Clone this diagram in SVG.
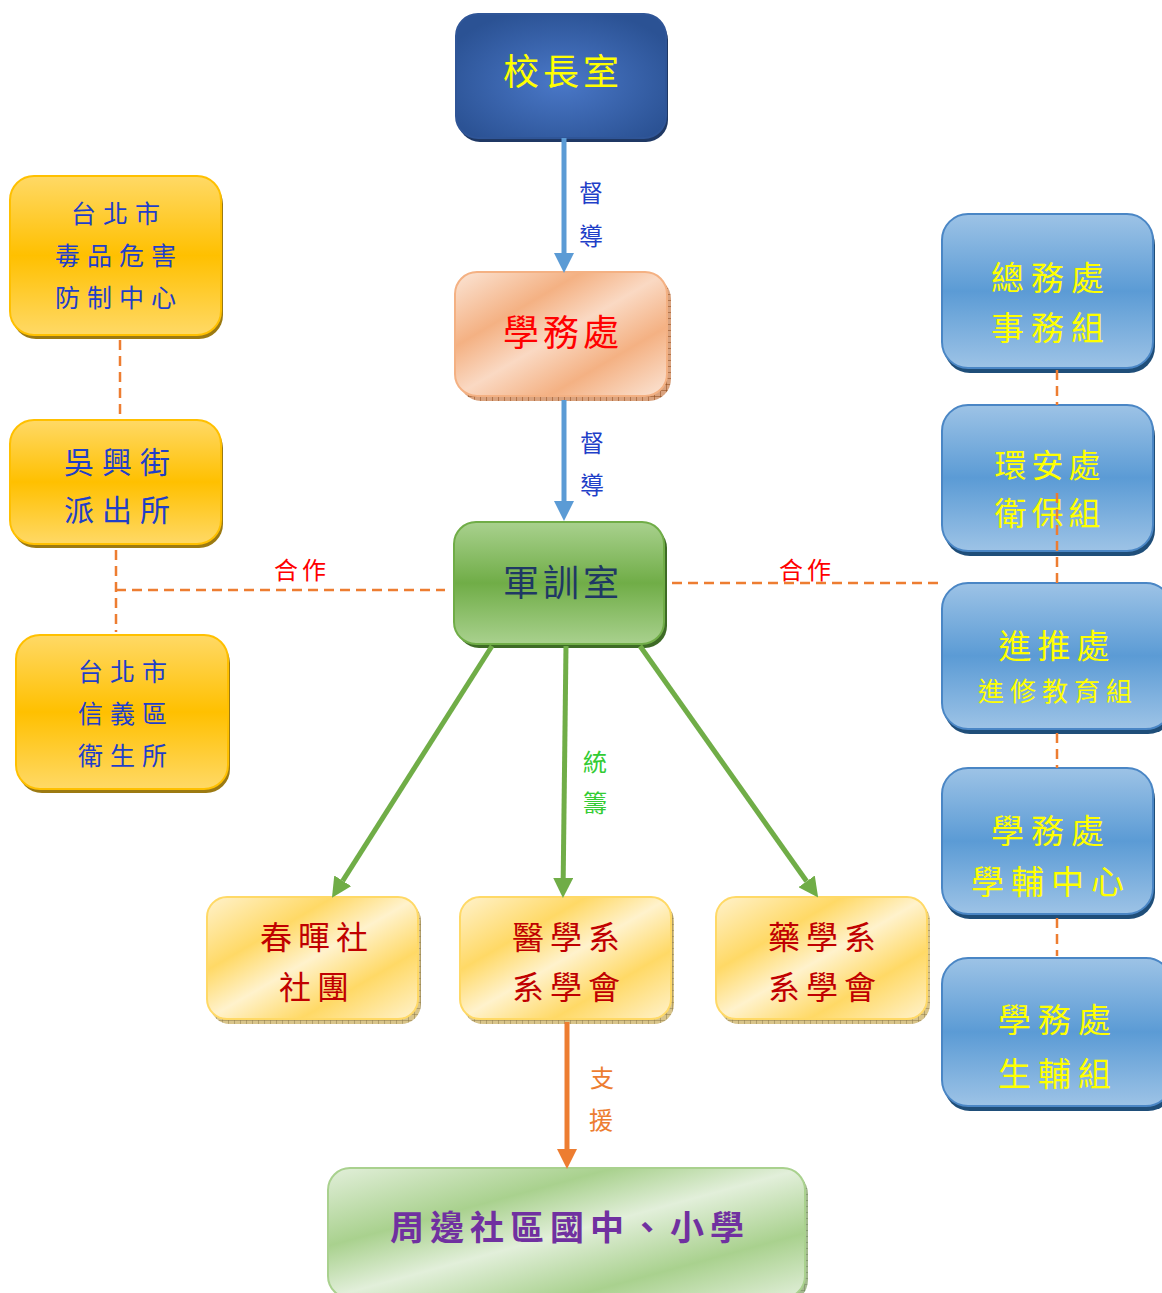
<svg xmlns="http://www.w3.org/2000/svg" width="1162" height="1293" viewBox="0 0 1162 1293">
<style>
text{font-family:"Noto Sans CJK TC","Noto Sans CJK SC",sans-serif;text-anchor:middle}
.t36{font-size:36px;letter-spacing:4px}
.lab{font-size:24px;letter-spacing:0}
.yel{fill:#FFFF00}
.blueT{fill:#1F3FC8}
.redT{fill:#C00000}
.dash{fill:none;stroke:#ED7D31;stroke-width:2.5;stroke-dasharray:10 6}
</style>
<defs>
<radialGradient id="gNavy" cx="0.5" cy="0.55" r="0.6">
<stop offset="0" stop-color="#4A78C8"/><stop offset="1" stop-color="#2B5294"/>
</radialGradient>
<linearGradient id="gPeach" x1="0" y1="0" x2="1" y2="1">
<stop offset="0" stop-color="#FBE5D6"/><stop offset="0.3" stop-color="#F4B183"/><stop offset="0.5" stop-color="#FAD9C3"/><stop offset="0.72" stop-color="#F4B183"/><stop offset="1" stop-color="#FBE5D6"/>
</linearGradient>
<linearGradient id="gGreen" x1="0" y1="0" x2="0" y2="1">
<stop offset="0" stop-color="#A9D18E"/><stop offset="0.5" stop-color="#70AD47"/><stop offset="1" stop-color="#A9D18E"/>
</linearGradient>
<linearGradient id="gGold" x1="0" y1="0" x2="0" y2="1">
<stop offset="0" stop-color="#FFD966"/><stop offset="0.5" stop-color="#FFC000"/><stop offset="1" stop-color="#FFD966"/>
</linearGradient>
<linearGradient id="gBlue" x1="0" y1="0" x2="0" y2="1">
<stop offset="0" stop-color="#9DC3E6"/><stop offset="0.5" stop-color="#5B9BD5"/><stop offset="1" stop-color="#9DC3E6"/>
</linearGradient>
<linearGradient id="gCream" x1="0" y1="0" x2="1" y2="1">
<stop offset="0" stop-color="#FFF2CC"/><stop offset="0.3" stop-color="#FFD966"/><stop offset="0.5" stop-color="#FFF2CC"/><stop offset="0.72" stop-color="#FFD966"/><stop offset="1" stop-color="#FFF2CC"/>
</linearGradient>
<linearGradient id="gLeaf" x1="0" y1="0" x2="1" y2="1">
<stop offset="0" stop-color="#E2EFDA"/><stop offset="0.3" stop-color="#A9D18E"/><stop offset="0.5" stop-color="#E2EFDA"/><stop offset="0.75" stop-color="#A9D18E"/><stop offset="1" stop-color="#E2EFDA"/>
</linearGradient>
<pattern id="hB" width="6" height="6" patternUnits="userSpaceOnUse">
<rect width="6" height="6" fill="#D9A27E"/><path d="M0 0H6M0 0V6" stroke="#8B4513" stroke-width="1"/>
</pattern>
<pattern id="hY" width="6" height="6" patternUnits="userSpaceOnUse">
<rect width="6" height="6" fill="#D8C48A"/><path d="M0 0H6M0 0V6" stroke="#8C7A4A" stroke-width="1"/>
</pattern>
<pattern id="hG" width="6" height="6" patternUnits="userSpaceOnUse">
<rect width="6" height="6" fill="#A3B98E"/><path d="M0 0H6M0 0V6" stroke="#6B7F59" stroke-width="1"/>
</pattern>
<marker id="aBlue" markerUnits="userSpaceOnUse" markerWidth="20" markerHeight="20" viewBox="0 0 18 18" refX="0" refY="9" orient="auto"><path d="M0 0L18 9L0 18z" fill="#5B9BD5"/></marker>
<marker id="aGreen" markerUnits="userSpaceOnUse" markerWidth="20" markerHeight="20" viewBox="0 0 18 18" refX="0" refY="9" orient="auto"><path d="M0 0L18 9L0 18z" fill="#70AD47"/></marker>
<marker id="aOrange" markerUnits="userSpaceOnUse" markerWidth="20" markerHeight="20" viewBox="0 0 18 18" refX="0" refY="9" orient="auto"><path d="M0 0L18 9L0 18z" fill="#ED7D31"/></marker>
</defs>
<rect width="1162" height="1293" fill="#FFFFFF"/>

<g id="n-principal">
<rect x="458" y="18" width="210" height="124" rx="22" fill="#1F3864"/>
<rect x="456" y="14" width="210" height="124" rx="22" fill="url(#gNavy)" stroke="#2F5597" stroke-width="2"/>
<text class="t36 yel" x="563" y="85">校長室</text>
</g>

<g id="n-student-affairs">
<rect x="459" y="277" width="212" height="124" rx="22" fill="url(#hB)"/>
<rect x="455" y="272" width="212" height="124" rx="22" fill="url(#gPeach)" stroke="#F4B183" stroke-width="2"/>
<text class="t36" x="563" y="346" fill="#FF0000">學務處</text>
</g>

<g id="n-military">
<rect x="457" y="526" width="210" height="122" rx="22" fill="#3E6B26"/>
<rect x="454" y="522" width="210" height="122" rx="22" fill="url(#gGreen)" stroke="#70AD47" stroke-width="2"/>
<text class="t36" x="563" y="596" fill="#1F3864">軍訓室</text>
</g>

<g id="n-drug-center">
<rect x="12" y="180" width="211" height="159" rx="24" fill="#9C7A12"/>
<rect x="10" y="176" width="211" height="159" rx="24" fill="url(#gGold)" stroke="#FFC000" stroke-width="2"/>
<text class="blueT" style="font-size:25px;letter-spacing:7px" x="119" y="223">台北市</text>
<text class="blueT" style="font-size:25px;letter-spacing:7px" x="119" y="265">毒品危害</text>
<text class="blueT" style="font-size:25px;letter-spacing:7px" x="119" y="307">防制中心</text>
</g>

<g id="n-police">
<rect x="12" y="424" width="211" height="124" rx="24" fill="#9C7A12"/>
<rect x="10" y="420" width="211" height="124" rx="24" fill="url(#gGold)" stroke="#FFC000" stroke-width="2"/>
<text class="blueT" style="font-size:30px;letter-spacing:8px" x="121" y="473">吳興街</text>
<text class="blueT" style="font-size:30px;letter-spacing:8px" x="121" y="521">派出所</text>
</g>

<g id="n-health">
<rect x="18" y="639" width="212" height="154" rx="24" fill="#9C7A12"/>
<rect x="16" y="635" width="212" height="154" rx="24" fill="url(#gGold)" stroke="#FFC000" stroke-width="2"/>
<text class="blueT" style="font-size:25px;letter-spacing:7px" x="126" y="681">台北市</text>
<text class="blueT" style="font-size:25px;letter-spacing:7px" x="126" y="723">信義區</text>
<text class="blueT" style="font-size:25px;letter-spacing:7px" x="126" y="765">衛生所</text>
</g>

<g id="n-general-affairs">
<rect x="944" y="219" width="211" height="154" rx="26" fill="#1F4E79"/>
<rect x="942" y="214" width="211" height="154" rx="26" fill="url(#gBlue)" stroke="#4A86C5" stroke-width="2"/>
<text class="yel" style="font-size:33px;letter-spacing:7px" x="1051" y="290">總務處</text>
<text class="yel" style="font-size:33px;letter-spacing:7px" x="1051" y="340">事務組</text>
</g>

<g id="n-environment">
<rect x="944" y="410" width="211" height="146" rx="26" fill="#1F4E79"/>
<rect x="942" y="405" width="211" height="146" rx="26" fill="url(#gBlue)" stroke="#4A86C5" stroke-width="2"/>
<text class="yel" style="font-size:32px;letter-spacing:5px" x="1050" y="477">環安處</text>
<text class="yel" style="font-size:32px;letter-spacing:5px" x="1050" y="525">衛保組</text>
</g>

<g id="n-extension">
<rect x="944" y="588" width="230" height="146" rx="26" fill="#1F4E79"/>
<rect x="942" y="583" width="230" height="146" rx="26" fill="url(#gBlue)" stroke="#4A86C5" stroke-width="2"/>
<text class="yel" style="font-size:33px;letter-spacing:6px" x="1057" y="658">進推處</text>
<text class="yel" style="font-size:26px;letter-spacing:6px" x="1058" y="701">進修教育組</text>
</g>

<g id="n-counseling">
<rect x="944" y="773" width="211" height="146" rx="26" fill="#1F4E79"/>
<rect x="942" y="768" width="211" height="146" rx="26" fill="url(#gBlue)" stroke="#4A86C5" stroke-width="2"/>
<text class="yel" style="font-size:33px;letter-spacing:7px" x="1051" y="843">學務處</text>
<text class="yel" style="font-size:33px;letter-spacing:7px" x="1051" y="894">學輔中心</text>
</g>

<g id="n-life-guidance">
<rect x="944" y="963" width="230" height="148" rx="26" fill="#1F4E79"/>
<rect x="942" y="958" width="230" height="148" rx="26" fill="url(#gBlue)" stroke="#4A86C5" stroke-width="2"/>
<text class="yel" style="font-size:33px;letter-spacing:7px" x="1058" y="1032">學務處</text>
<text class="yel" style="font-size:33px;letter-spacing:7px" x="1058" y="1086">生輔組</text>
</g>

<g id="n-chunhui">
<rect x="210" y="901" width="211" height="123" rx="20" fill="url(#hY)"/>
<rect x="207" y="897" width="211" height="122" rx="20" fill="url(#gCream)" stroke="#FFD966" stroke-width="2"/>
<text class="redT" style="font-size:32px;letter-spacing:6px" x="317" y="949">春暉社</text>
<text class="redT" style="font-size:32px;letter-spacing:6px" x="317" y="999">社團</text>
</g>

<g id="n-medicine">
<rect x="463" y="901" width="211" height="123" rx="20" fill="url(#hY)"/>
<rect x="460" y="897" width="211" height="122" rx="20" fill="url(#gCream)" stroke="#FFD966" stroke-width="2"/>
<text class="redT" style="font-size:32px;letter-spacing:6px" x="569" y="949">醫學系</text>
<text class="redT" style="font-size:32px;letter-spacing:6px" x="569" y="999">系學會</text>
</g>

<g id="n-pharmacy">
<rect x="719" y="901" width="211" height="123" rx="20" fill="url(#hY)"/>
<rect x="716" y="897" width="211" height="122" rx="20" fill="url(#gCream)" stroke="#FFD966" stroke-width="2"/>
<text class="redT" style="font-size:32px;letter-spacing:6px" x="825" y="949">藥學系</text>
<text class="redT" style="font-size:32px;letter-spacing:6px" x="825" y="999">系學會</text>
</g>

<g id="n-schools">
<rect x="331" y="1172" width="477" height="130" rx="22" fill="url(#hG)"/>
<rect x="328" y="1168" width="477" height="130" rx="22" fill="url(#gLeaf)" stroke="#A9D18E" stroke-width="2"/>
<text style="font-size:34px;letter-spacing:6px;font-weight:700" x="570" y="1240" fill="#7030A0">周邊社區國中、小學</text>
</g>

<g id="connectors">
<line x1="564" y1="138" x2="564" y2="253" stroke="#5B9BD5" stroke-width="5" marker-end="url(#aBlue)"/>
<line x1="564" y1="400" x2="564" y2="501" stroke="#5B9BD5" stroke-width="5" marker-end="url(#aBlue)"/>
<line x1="492" y1="646" x2="342.7" y2="880.8" stroke="#70AD47" stroke-width="5" marker-end="url(#aGreen)"/>
<line x1="566" y1="646" x2="563.2" y2="878" stroke="#70AD47" stroke-width="5" marker-end="url(#aGreen)"/>
<line x1="640" y1="646" x2="806.6" y2="881.3" stroke="#70AD47" stroke-width="5" marker-end="url(#aGreen)"/>
<line x1="567" y1="1022" x2="567" y2="1149" stroke="#ED7D31" stroke-width="5" marker-end="url(#aOrange)"/>
<path class="dash" d="M120 340V418"/>
<path class="dash" d="M116 550V632"/>
<path class="dash" d="M116 590H445"/>
<path class="dash" d="M672 583H942"/>
<path class="dash" d="M1057 370V405"/>
<path class="dash" d="M1057 493V583"/>
<path class="dash" d="M1057 733V768"/>
<path class="dash" d="M1057 918V956"/>
<text class="lab" x="591" y="202" fill="#1F3FC8">督</text>
<text class="lab" x="591" y="245" fill="#1F3FC8">導</text>
<text class="lab" x="592" y="452" fill="#1F3FC8">督</text>
<text class="lab" x="592" y="494" fill="#1F3FC8">導</text>
<text class="lab" x="595" y="771" fill="#33CC33">統</text>
<text class="lab" x="595" y="812" fill="#33CC33">籌</text>
<text class="lab" x="602" y="1087" fill="#ED7D31">支</text>
<text class="lab" x="601" y="1129" fill="#ED7D31">援</text>
<text class="lab" style="letter-spacing:4px" x="302" y="579" fill="#FF0000">合作</text>
<text class="lab" style="letter-spacing:4px" x="807" y="579" fill="#FF0000">合作</text>
</g>
</svg>
